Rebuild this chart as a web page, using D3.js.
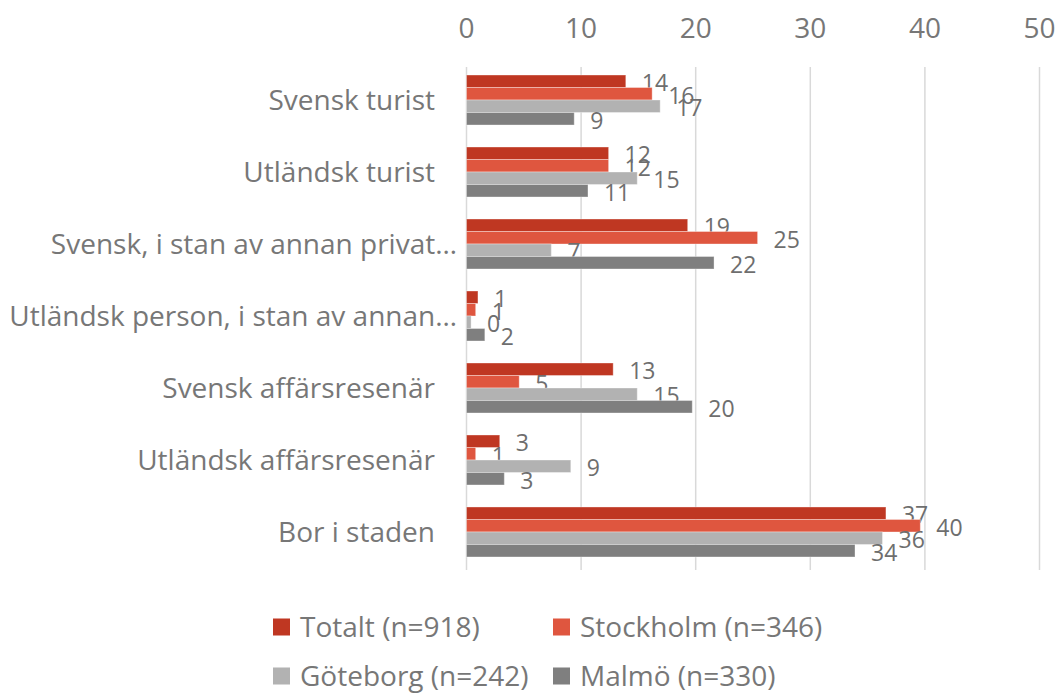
<!DOCTYPE html>
<meta charset="utf-8">
<script src="https://d3js.org/d3.v7.min.js"></script>
<style>
  body { margin: 0; background: #fff; }
  text { font-family: "Open Sans", sans-serif; fill: #777777; }
</style>
<div id="my_dataviz"></div>
<script>

// categories (top to bottom)
var categories = ["Svensk turist", "Utländsk turist", "Svensk, i stan av annan privat…",
  "Utländsk person, i stan av annan…", "Svensk affärsresenär", "Utländsk affärsresenär", "Bor i staden"];

// series values (percent)
var totalt    = [13.9, 12.4, 19.3, 1.0, 12.8, 2.9, 36.6];
var stockholm = [16.2, 12.4, 25.4, 0.8, 4.6, 0.8, 39.6];
var goteborg  = [16.9, 14.9, 7.4, 0.4, 14.9, 9.1, 36.3];
var malmo     = [9.4, 10.6, 21.6, 1.6, 19.7, 3.3, 33.9];

var seriesNames = ["Totalt (n=918)", "Stockholm (n=346)", "Göteborg (n=242)", "Malmö (n=330)"];
var xTicks = [0, 10, 20, 30, 40, 50];

var series = [totalt, stockholm, goteborg, malmo].map(function(vals, i) {
  return {name: seriesNames[i], values: vals};
});

var colors = d3.scaleOrdinal().domain(seriesNames)
  .range(["#bf3722", "#df563f", "#b2b2b2", "#7f7f7f"]);

var W = 1061, H = 694;
var svg = d3.select("#my_dataviz").append("svg")
  .attr("width", W).attr("height", H);

// scales
var x = d3.scaleLinear().domain([0, 50]).range([466.5, 1039.5]);
var y = d3.scaleBand().domain(categories).range([64, 568])
  .paddingInner(0.3056).paddingOuter(0.153);
var ySub = d3.scaleBand().domain(seriesNames).range([0, y.bandwidth()]);

// gridlines
svg.append("g").selectAll("line")
  .data(xTicks).enter().append("line")
    .attr("x1", function(d) { return x(d); })
    .attr("x2", function(d) { return x(d); })
    .attr("y1", 67).attr("y2", 570)
    .attr("stroke", "#d9d9d9").attr("stroke-width", 1.5);

// top axis labels
svg.append("g").selectAll("text")
  .data(xTicks).enter().append("text")
    .attr("x", function(d) { return x(d); })
    .attr("y", 38)
    .attr("text-anchor", "middle")
    .style("font-size", "28px")
    .text(function(d) { return d; });

// category labels
svg.append("g").selectAll("text")
  .data(categories).enter().append("text")
    .attr("x", function(d) { return d.slice(-1) === "…" ? 457 : 435; })
    .attr("y", function(d) { return y(d) + y.bandwidth() / 2; })
    .attr("dy", "0.35em")
    .attr("text-anchor", "end")
    .style("font-size", "28px")
    .text(function(d) { return d; });

// bars
var groups = svg.append("g").selectAll("g")
  .data(series).enter().append("g")
    .attr("fill", function(d) { return colors(d.name); });

groups.selectAll("rect")
  .data(function(d) {
    return d.values.map(function(v, i) { return {name: d.name, cat: categories[i], value: v}; });
  })
  .enter().append("rect")
    .attr("x", x(0))
    .attr("y", function(d) { return y(d.cat) + ySub(d.name); })
    .attr("width", function(d) { return x(d.value) - x(0); })
    .attr("height", ySub.bandwidth())
    .attr("stroke", "#ffffff").attr("stroke-opacity", 0.35).attr("stroke-width", 1);

// data labels
groups.selectAll("text")
  .data(function(d) {
    return d.values.map(function(v, i) { return {name: d.name, cat: categories[i], value: v}; });
  })
  .enter().append("text")
    .attr("x", function(d) { return x(d.value) + 16; })
    .attr("y", function(d) { return y(d.cat) + ySub(d.name) + ySub.bandwidth() / 2 + 1.5; })
    .attr("dy", "0.36em")
    .style("font-size", "23px")
    .style("fill", "#6e6e6e")
    .text(function(d) { return Math.round(d.value); });

// legend
var legendPos = [[273, 627], [553, 627], [273, 676], [553, 676]];
var legend = svg.append("g").selectAll("g")
  .data(seriesNames).enter().append("g")
    .attr("transform", function(d, i) { return "translate(" + legendPos[i][0] + "," + legendPos[i][1] + ")"; });
legend.append("rect")
  .attr("x", 0).attr("y", -8.5).attr("width", 17).attr("height", 17)
  .attr("fill", function(d) { return colors(d); });
legend.append("text")
  .attr("x", 27).attr("y", 0).attr("dy", "0.35em")
  .style("font-size", "28px")
  .text(function(d) { return d; });

</script>
